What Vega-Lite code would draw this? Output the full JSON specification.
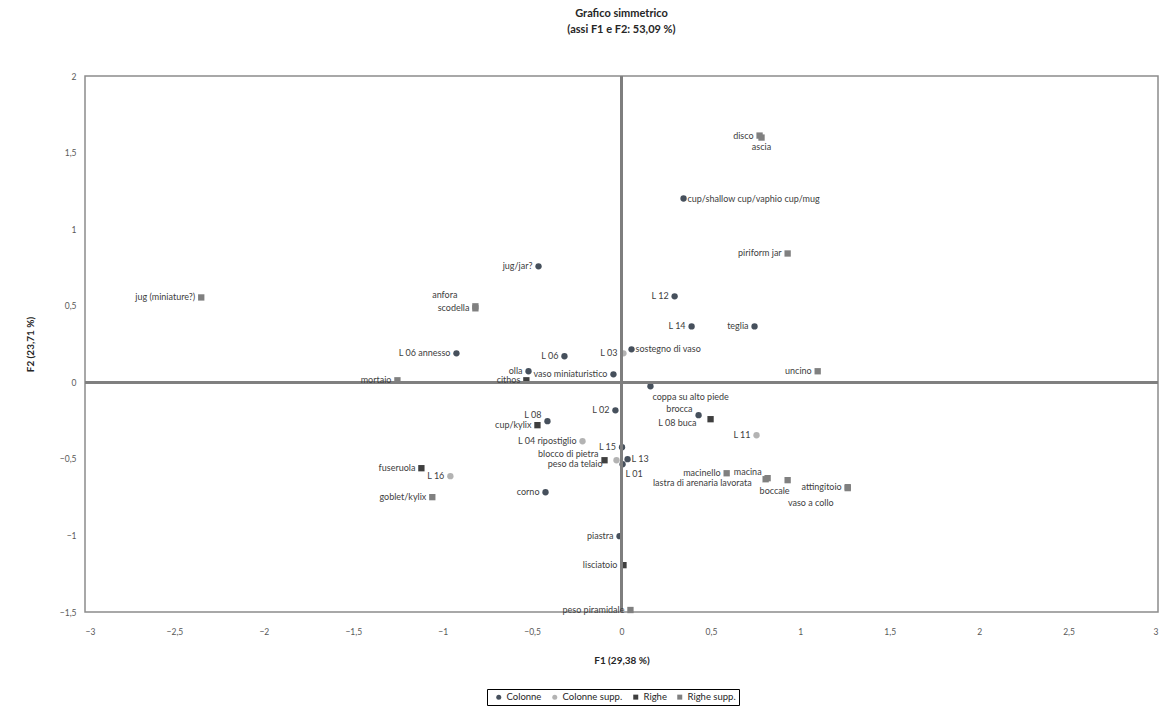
{
  "$schema": "https://vega.github.io/schema/vega-lite/v6.json",
  "autosize": {"type": "none"},
  "padding": {"left": 85, "top": 76, "right": 16, "bottom": 110},
  "width": 1073,
  "height": 536,
  "background": "white",
  "title": {
    "text": ["Grafico simmetrico", "(assi F1 e F2: 53,09 %)"],
    "font": "Lato", "fontSize": 11, "fontWeight": "bold", "color": "#262626",
    "anchor": "middle", "offset": 37, "lineHeight": 16
  },
  "config": {
    "view": {"stroke": "#8c8c8c", "strokeWidth": 1.5},
    "axis": {"grid": false, "domain": false, "ticks": false, "labelFont": "Lato", "labelFontSize": 8.5, "labelColor": "#595959", "titleFont": "Lato", "titleFontSize": 10, "titleFontWeight": "bold", "titleColor": "#262626"}
  },
  "data": {"values": [
    {"label": "disco", "serie": "Righe supp.", "f1": 0.772, "f2": 1.611},
    {"label": "ascia", "serie": "Righe supp.", "f1": 0.783, "f2": 1.598},
    {"label": "cup/shallow cup/vaphio cup/mug", "serie": "Colonne", "f1": 0.347, "f2": 1.2},
    {"label": "piriform jar", "serie": "Righe supp.", "f1": 0.929, "f2": 0.841},
    {"label": "jug/jar?", "serie": "Colonne", "f1": -0.464, "f2": 0.757},
    {"label": "jug (miniature?)", "serie": "Righe supp.", "f1": -2.35, "f2": 0.554},
    {"label": "anfora", "serie": "Righe supp.", "f1": -0.817, "f2": 0.496},
    {"label": "scodella", "serie": "Righe supp.", "f1": -0.817, "f2": 0.483},
    {"label": "L 12", "serie": "Colonne", "f1": 0.297, "f2": 0.561},
    {"label": "L 14", "serie": "Colonne", "f1": 0.392, "f2": 0.365},
    {"label": "teglia", "serie": "Colonne", "f1": 0.744, "f2": 0.365},
    {"label": "L 06 annesso", "serie": "Colonne", "f1": -0.923, "f2": 0.189},
    {"label": "L 06", "serie": "Colonne", "f1": -0.319, "f2": 0.17},
    {"label": "L 03", "serie": "Colonne supp.", "f1": 0.011, "f2": 0.189},
    {"label": "sostegno di vaso", "serie": "Colonne", "f1": 0.056, "f2": 0.215},
    {"label": "uncino", "serie": "Righe supp.", "f1": 1.097, "f2": 0.072},
    {"label": "olla", "serie": "Colonne", "f1": -0.52, "f2": 0.072},
    {"label": "vaso miniaturistico", "serie": "Colonne", "f1": -0.045, "f2": 0.052},
    {"label": "cithos", "serie": "Righe", "f1": -0.532, "f2": 0.013},
    {"label": "mortaio", "serie": "Righe supp.", "f1": -1.253, "f2": 0.013},
    {"label": "coppa su alto piede", "serie": "Colonne", "f1": 0.162, "f2": -0.026},
    {"label": "L 02", "serie": "Colonne", "f1": -0.034, "f2": -0.183},
    {"label": "brocca", "serie": "Colonne", "f1": 0.431, "f2": -0.215},
    {"label": "L 08 buca", "serie": "Righe", "f1": 0.498, "f2": -0.241},
    {"label": "L 11", "serie": "Colonne supp.", "f1": 0.755, "f2": -0.346},
    {"label": "cup/kylix", "serie": "Righe", "f1": -0.47, "f2": -0.28},
    {"label": "L 08", "serie": "Colonne", "f1": -0.414, "f2": -0.254},
    {"label": "L 04 ripostiglio", "serie": "Colonne supp.", "f1": -0.218, "f2": -0.385},
    {"label": "L 15", "serie": "Colonne", "f1": 0.003, "f2": -0.424},
    {"label": "blocco di pietra", "serie": "Righe", "f1": -0.095, "f2": -0.509},
    {"label": "peso da telaio", "serie": "Colonne supp.", "f1": -0.028, "f2": -0.509},
    {"label": "L 01", "serie": "Colonne", "f1": 0.006, "f2": -0.535},
    {"label": "L 13", "serie": "Colonne", "f1": 0.034, "f2": -0.502},
    {"label": "fuseruola", "serie": "Righe", "f1": -1.119, "f2": -0.561},
    {"label": "L 16", "serie": "Colonne supp.", "f1": -0.957, "f2": -0.613},
    {"label": "goblet/kylix", "serie": "Righe supp.", "f1": -1.058, "f2": -0.75},
    {"label": "corno", "serie": "Colonne", "f1": -0.425, "f2": -0.718},
    {"label": "macinello", "serie": "Righe supp.", "f1": 0.588, "f2": -0.594},
    {"label": "macina", "serie": "Righe supp.", "f1": 0.817, "f2": -0.626},
    {"label": "lastra di arenaria lavorata", "serie": "Righe supp.", "f1": 0.806, "f2": -0.633},
    {"label": "boccale", "serie": "Righe supp.", "f1": 0.929, "f2": -0.639},
    {"label": "attingitoio", "serie": "Righe supp.", "f1": 1.265, "f2": -0.685},
    {"label": "vaso a collo", "serie": "Righe supp.", "f1": 1.265, "f2": -0.691},
    {"label": "piastra", "serie": "Colonne", "f1": -0.011, "f2": -1.005},
    {"label": "lisciatoio", "serie": "Righe", "f1": 0.011, "f2": -1.194},
    {"label": "peso piramidale", "serie": "Righe supp.", "f1": 0.05, "f2": -1.487}
  ]},
  "layer": [
    {
      "mark": {"type": "point", "filled": true, "opacity": 1, "size": 40},
      "encoding": {
        "x": {"field": "f1", "type": "quantitative", "title": "F1 (29,38 %)",
          "scale": {"domain": [-3, 3], "nice": false, "zero": false},
          "axis": {"values": [-3, -2.5, -2, -1.5, -1, -0.5, 0, 0.5, 1, 1.5, 2, 2.5, 3], "labelPadding": 15, "titlePadding": 20, "labelExpr": "replace(format(datum.value, ''), '.', ',')"}},
        "y": {"field": "f2", "type": "quantitative", "title": "F2 (23,71 %)",
          "scale": {"domain": [-1.5, 2], "nice": false, "zero": false},
          "axis": {"values": [-1.5, -1, -0.5, 0, 0.5, 1, 1.5, 2], "labelPadding": 9, "titlePadding": 24, "labelExpr": "replace(format(datum.value, ''), '.', ',')"}},
        "color": {"field": "serie", "type": "nominal",
          "scale": {"domain": ["Colonne", "Colonne supp.", "Righe", "Righe supp."], "range": ["#46505c", "#b3b3b3", "#3f3f3f", "#808080"]},
          "legend": {"title": null, "orient": "none", "legendX": 402, "legendY": 613, "direction": "horizontal", "strokeColor": "#000000", "fillColor": "white", "padding": 3, "labelFont": "Lato", "labelFontSize": 9.5, "labelColor": "#262626", "symbolSize": 25, "columnPadding": 4, "labelOffset": 3, "symbolOffset": 4}},
        "shape": {"field": "serie", "type": "nominal",
          "scale": {"domain": ["Colonne", "Colonne supp.", "Righe", "Righe supp."], "range": ["circle", "circle", "square", "square"]}}
      }
    },
    {"mark": {"type": "rule", "color": "#7f7f7f", "strokeWidth": 2}, "encoding": {"x": {"datum": 0, "type": "quantitative"}}},
    {"mark": {"type": "rule", "color": "#7f7f7f", "strokeWidth": 2}, "encoding": {"y": {"datum": 0, "type": "quantitative"}}},
    {
      "transform": [{"filter": {"not": {"field": "label", "oneOf": ["cup/shallow cup/vaphio cup/mug", "sostegno di vaso", "ascia", "coppa su alto piede", "vaso a collo", "anfora", "boccale", "brocca", "L 08 buca", "macina", "lastra di arenaria lavorata", "L 01", "L 13", "blocco di pietra", "peso da telaio", "L 08"]}}}],
      "mark": {"type": "text", "align": "right", "baseline": "middle", "dx": -6, "font": "Lato", "fontSize": 9, "color": "#404040"},
      "encoding": {"x": {"field": "f1", "type": "quantitative"}, "y": {"field": "f2", "type": "quantitative"}, "text": {"field": "label"}}
    },
    {
      "transform": [{"filter": {"field": "label", "oneOf": ["cup/shallow cup/vaphio cup/mug", "sostegno di vaso", "L 13"]}}],
      "mark": {"type": "text", "align": "left", "baseline": "middle", "dx": 4, "font": "Lato", "fontSize": 9, "color": "#404040"},
      "encoding": {"x": {"field": "f1", "type": "quantitative"}, "y": {"field": "f2", "type": "quantitative"}, "text": {"field": "label"}}
    },
    {
      "transform": [{"filter": {"field": "label", "oneOf": ["ascia"]}}],
      "mark": {"type": "text", "align": "center", "baseline": "middle", "dy": 9, "font": "Lato", "fontSize": 9, "color": "#404040"},
      "encoding": {"x": {"field": "f1", "type": "quantitative"}, "y": {"field": "f2", "type": "quantitative"}, "text": {"field": "label"}}
    },
    {
      "transform": [{"filter": {"field": "label", "oneOf": ["coppa su alto piede"]}}],
      "mark": {"type": "text", "align": "left", "baseline": "middle", "dx": 2, "dy": 11, "font": "Lato", "fontSize": 9, "color": "#404040"},
      "encoding": {"x": {"field": "f1", "type": "quantitative"}, "y": {"field": "f2", "type": "quantitative"}, "text": {"field": "label"}}
    },
    {
      "transform": [{"filter": {"field": "label", "oneOf": ["vaso a collo"]}}],
      "mark": {"type": "text", "align": "right", "baseline": "middle", "dx": -14, "dy": 15, "font": "Lato", "fontSize": 9, "color": "#404040"},
      "encoding": {"x": {"field": "f1", "type": "quantitative"}, "y": {"field": "f2", "type": "quantitative"}, "text": {"field": "label"}}
    },
    {
      "transform": [{"filter": {"field": "label", "oneOf": ["anfora"]}}],
      "mark": {"type": "text", "align": "right", "baseline": "middle", "dx": -18, "dy": -11, "font": "Lato", "fontSize": 9, "color": "#404040"},
      "encoding": {"x": {"field": "f1", "type": "quantitative"}, "y": {"field": "f2", "type": "quantitative"}, "text": {"field": "label"}}
    },
    {
      "transform": [{"filter": {"field": "label", "oneOf": ["boccale"]}}],
      "mark": {"type": "text", "align": "right", "baseline": "middle", "dx": 2, "dy": 11, "font": "Lato", "fontSize": 9, "color": "#404040"},
      "encoding": {"x": {"field": "f1", "type": "quantitative"}, "y": {"field": "f2", "type": "quantitative"}, "text": {"field": "label"}}
    },
    {
      "transform": [{"filter": {"field": "label", "oneOf": ["brocca", "macina", "blocco di pietra", "L 08"]}}],
      "mark": {"type": "text", "align": "right", "baseline": "middle", "dx": -6, "dy": -6, "font": "Lato", "fontSize": 9, "color": "#404040"},
      "encoding": {"x": {"field": "f1", "type": "quantitative"}, "y": {"field": "f2", "type": "quantitative"}, "text": {"field": "label"}}
    },
    {
      "transform": [{"filter": {"field": "label", "oneOf": ["L 08 buca", "lastra di arenaria lavorata", "peso da telaio"]}}],
      "mark": {"type": "text", "align": "right", "baseline": "middle", "dx": -14, "dy": 4, "font": "Lato", "fontSize": 9, "color": "#404040"},
      "encoding": {"x": {"field": "f1", "type": "quantitative"}, "y": {"field": "f2", "type": "quantitative"}, "text": {"field": "label"}}
    },
    {
      "transform": [{"filter": {"field": "label", "oneOf": ["L 01"]}}],
      "mark": {"type": "text", "align": "left", "baseline": "middle", "dx": 3, "dy": 10, "font": "Lato", "fontSize": 9, "color": "#404040"},
      "encoding": {"x": {"field": "f1", "type": "quantitative"}, "y": {"field": "f2", "type": "quantitative"}, "text": {"field": "label"}}
    }
  ]
}
